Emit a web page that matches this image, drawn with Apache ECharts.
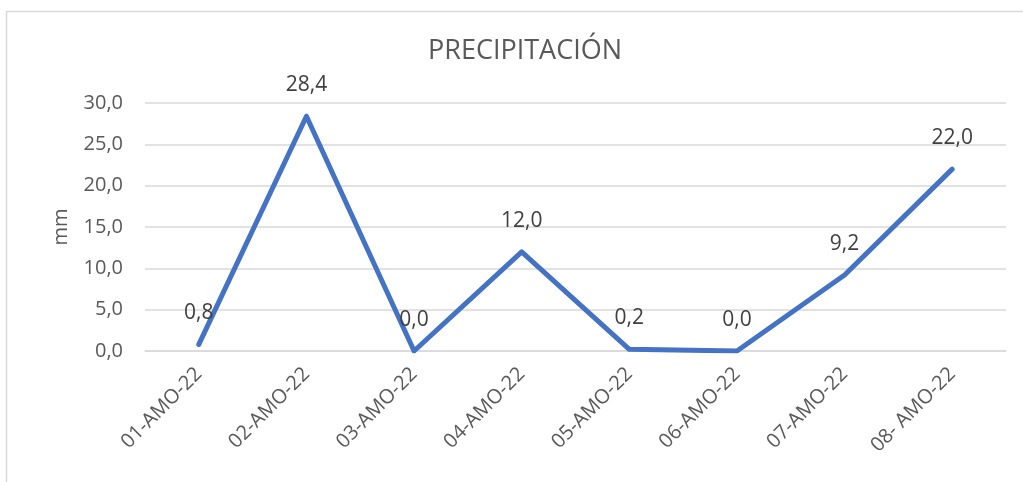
<!DOCTYPE html>
<html><head><meta charset="utf-8">
<script src="https://cdn.jsdelivr.net/npm/echarts@6/dist/echarts.min.js"></script>
<style>html,body{margin:0;padding:0;background:#fff}#c{width:1023px;height:482px}</style>
</head><body><div id="c"></div>
<script>
const categories = ['01-AMO-22','02-AMO-22','03-AMO-22','04-AMO-22','05-AMO-22','06-AMO-22','07-AMO-22','08- AMO-22'];
const precipitation = [0.8, 28.4, 0.0, 12.0, 0.2, 0.0, 9.2, 22.0];
const chartTitle = 'PRECIPITACIÓN';
const yName = 'mm';
const fmt = v => Number(v).toFixed(1).replace('.', ',');
const FONT = '"Open Sans", "Liberation Sans", sans-serif';
const chart = echarts.init(document.getElementById('c'), null, {renderer:'canvas'});
chart.setOption({
  backgroundColor: '#fff',
  animation: false,
  graphic: [{type:'rect', shape:{x:6.5,y:11.5,width:1040,height:500}, style:{fill:'none',stroke:'#d9d9d9',lineWidth:1.5}, silent:true}],
  title: {text: chartTitle, left: 520, top: 33, textAlign:'center',
    textStyle:{fontFamily:FONT, fontSize:27, fontWeight:'normal', color:'#595959'}},
  grid: {left:145, right:17, top:103, bottom:131, containLabel:false},
  xAxis: {type:'category', data: categories, boundaryGap:true,
    axisLine:{show:true, lineStyle:{color:'#d9d9d9', width:1.5}},
    axisTick:{show:false},
    axisLabel:{rotate:45, interval:0, margin:20, fontFamily:FONT, fontSize:20, color:'#595959'}},
  yAxis: {type:'value', min:0, max:30, interval:5, name:yName, nameLocation:'middle', nameGap:74, nameRotate:90,
    nameTextStyle:{fontFamily:FONT, fontSize:20, color:'#595959'},
    axisLine:{show:false}, axisTick:{show:false},
    axisLabel:{formatter: fmt, margin:22, fontFamily:FONT, fontSize:20, color:'#595959'},
    splitLine:{lineStyle:{color:'#d9d9d9', width:1.5}}},
  series: [{type:'line', data: precipitation, showSymbol:true, symbol:'circle', symbolSize:3,
    lineStyle:{color:'#4472C4', width:5, cap:'round', join:'round'},
    itemStyle:{color:'#4472C4'},
    label:{show:true, position:'top', distance:19, formatter: p => fmt(p.value),
      fontFamily:FONT, fontSize:21, color:'#404040'}}]
});
</script></body></html>
